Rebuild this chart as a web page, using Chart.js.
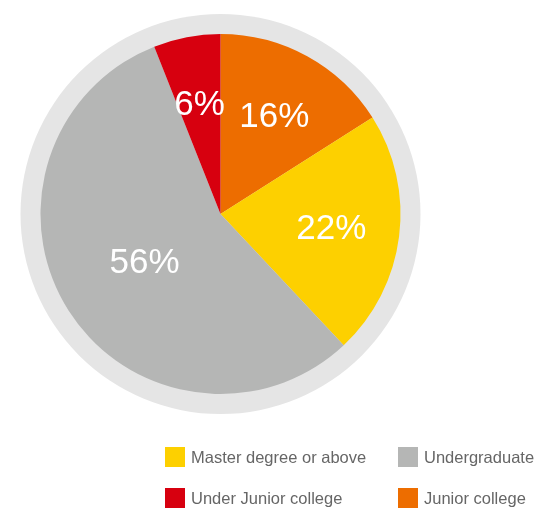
<!DOCTYPE html>
<html>
<head>
<meta charset="utf-8">
<script src="https://cdn.jsdelivr.net/npm/chart.js@4"></script>
<style>
  html, body { margin: 0; padding: 0; background: #fff; }
  #wrap { position: relative; width: 534px; height: 510px; }
  #legend { position: absolute; left: 0; top: 0; width: 534px; height: 510px; pointer-events: none;
    font-family: "Liberation Sans", Arial, sans-serif; font-size: 16.5px; color: #666; }
  .item { position: absolute; display: flex; align-items: center; white-space: nowrap; }
  .box { width: 20px; height: 20px; margin-right: 6px; }
</style>
</head>
<body>
<div id="wrap">
  <canvas id="c"></canvas>
  <div id="legend"></div>
</div>
<script>
// Data, in drawing order (clockwise from 12 o'clock)
const categories = ["Junior college", "Master degree or above", "Undergraduate", "Under Junior college"];
const shares = [16, 22, 56, 6];
const colors = ["#ED6D00", "#FDD000", "#B5B6B5", "#D7000F"];
// Legend order (2 x 2 grid)
const legendOrder = ["Master degree or above", "Undergraduate", "Under Junior college", "Junior college"];

const ringPlugin = {
  id: 'ring',
  beforeDatasetsDraw(chart) {
    const arc = chart.getDatasetMeta(0).data[0];
    if (!arc) return;
    const ctx = chart.ctx;
    ctx.save();
    ctx.beginPath();
    ctx.arc(arc.x, arc.y, arc.outerRadius + 20, 0, Math.PI * 2);
    ctx.fillStyle = '#E5E5E5';
    ctx.fill();
    ctx.restore();
  }
};

const labelPlugin = {
  id: 'pctLabels',
  afterDatasetsDraw(chart) {
    const ctx = chart.ctx;
    const meta = chart.getDatasetMeta(0);
    const total = shares.reduce((a, b) => a + b, 0);
    ctx.save();
    ctx.fillStyle = '#fff';
    ctx.font = '35px "Liberation Sans", Arial, sans-serif';
    ctx.textAlign = 'center';
    ctx.textBaseline = 'middle';
    meta.data.forEach((arc, i) => {
      const mid = (arc.startAngle + arc.endAngle) / 2;
      const frac = shares[i] / total;
      const r = arc.outerRadius * (frac > 0.5 ? 0.5 : 0.62);
      const x = arc.x + Math.cos(mid) * r;
      const y = arc.y + Math.sin(mid) * r;
      ctx.fillText(shares[i] + '%', x, y + 1);
    });
    ctx.restore();
  }
};

new Chart(document.getElementById('c'), {
  type: 'pie',
  data: {
    labels: categories,
    datasets: [{
      data: shares,
      backgroundColor: colors,
      borderWidth: 0,
      hoverOffset: 0
    }]
  },
  options: {
    responsive: true,
    maintainAspectRatio: false,
    animation: false,
    layout: { padding: { left: 40, right: 133, top: 34, bottom: 116 } },
    plugins: {
      legend: { display: false },
      tooltip: { enabled: false }
    }
  },
  plugins: [ringPlugin, labelPlugin]
});

// HTML legend built from the arrays
const legend = document.getElementById('legend');
const colX = [165, 398];
const rowY = [447, 488];
legendOrder.forEach((name, k) => {
  const idx = categories.indexOf(name);
  const el = document.createElement('div');
  el.className = 'item';
  el.style.left = colX[k % 2] + 'px';
  el.style.top = rowY[Math.floor(k / 2)] + 'px';
  el.style.height = '20px';
  const box = document.createElement('div');
  box.className = 'box';
  box.style.background = colors[idx];
  const txt = document.createElement('span');
  txt.textContent = name;
  el.appendChild(box);
  el.appendChild(txt);
  legend.appendChild(el);
});
</script>
</body>
</html>
